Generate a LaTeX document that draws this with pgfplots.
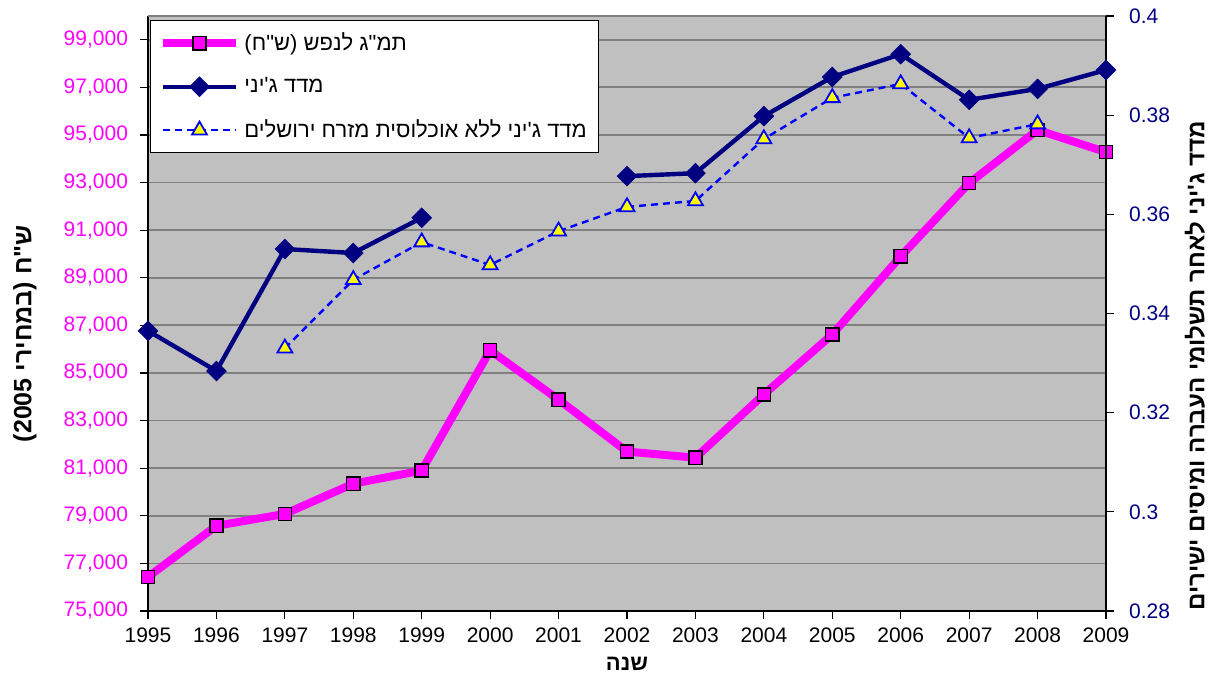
\documentclass[border=0pt]{standalone}
\usepackage{fontspec}
\setmainfont{Liberation Sans}
\newfontfamily\hebfont[Script=Hebrew]{Liberation Sans}
\usepackage{pgfplots}
\usepackage{pgfplotstable}
\pgfplotsset{compat=1.18}
\TeXXeTstate=1
\definecolor{gdpc}{HTML}{FF00FF}
\definecolor{ginic}{HTML}{000080}
\definecolor{gini2c}{HTML}{0000FF}
\definecolor{triy}{HTML}{FFFF00}
\definecolor{bgc}{HTML}{C0C0C0}
\definecolor{gridc}{HTML}{808080}
\newcommand{\heb}[1]{{\hebfont\beginR #1\endR}}

\pgfplotstableread{
year gdp
1995 76430
1996 78580
1997 79080
1998 80350
1999 80900
2000 85950
2001 83880
2002 81700
2003 81440
2004 84100
2005 86620
2006 89900
2007 92980
2008 95210
2009 94280
}\gdptable

\pgfplotstableread{
year gini
1995 0.3365
1996 0.3284
1997 0.3530
1998 0.3522
1999 0.3593
2000 nan
2001 nan
2002 0.3677
2003 0.3683
2004 0.3798
2005 0.3877
2006 0.3923
2007 0.3831
2008 0.3853
2009 0.3891
}\ginitable

\pgfplotstableread{
year gini
1997 0.3330
1998 0.3468
1999 0.3544
2000 0.3498
2001 0.3566
2002 0.3615
2003 0.3627
2004 0.3752
2005 0.3835
2006 0.3863
2007 0.3754
2008 0.3782
}\ginitwotable

\pgfplotsset{
  gdpstyle/.style={color=gdpc, line width=4pt, mark=square*, mark size=3.3pt,
    mark options={solid, fill=gdpc, draw=black, line width=0.7pt}},
  ginistyle/.style={color=ginic, line width=2.2pt, mark=square*, mark size=3.5pt,
    mark options={solid, fill=ginic, draw=ginic, line width=0.3pt, rotate=45}},
  gini2style/.style={color=gini2c, line width=1.2pt, dash pattern=on 3.5pt off 2.5pt,
    mark=triangle*, mark size=4.3pt,
    mark options={solid, fill=triy, draw=gini2c, line width=0.9pt}},
}

\begin{document}
\begin{tikzpicture}
\begin{axis}[
  name=ax,
  scale only axis, width=479pt, height=297.5pt,
  xmin=1995, xmax=2009, ymin=75000, ymax=100000,
  xtick={1995,1996,...,2009},
  ytick={75000,77000,...,99000},
  scaled y ticks=false, scaled x ticks=false,
  axis x line*=bottom, axis y line*=left,
  axis background/.style={fill=bgc},
  ymajorgrids, grid style={gridc, line width=0.9pt},
  tick align=outside, major tick length=4pt,
  tick style={black, line width=0.6pt},
  axis line style={black, line width=0.8pt},
  font=\fontsize{10.5}{12}\selectfont,
  /pgf/number format/assume math mode=true,
  xticklabel style={/pgf/number format/1000 sep={}, black, yshift=-1pt},
  yticklabel style={/pgf/number format/1000 sep={,}, gdpc, xshift=-2.5pt},
  xlabel={\heb{\bfseries שנה}},
  xlabel style={at={(rel axis cs:0.5,-0.089)}, anchor=center, font=\fontsize{11}{13}\selectfont},
  ylabel={\heb{\bfseries ש"ח (במחירי \beginL 2005\endL)}},
  ylabel style={at={(rel axis cs:-0.1284,0.466)}, anchor=center, font=\fontsize{12.5}{14}\selectfont},
  clip=false,
]
\draw[gridc, line width=0.9pt] (rel axis cs:0,1) -- (rel axis cs:1,1);
\addplot[gdpstyle] table[x=year, y=gdp] {\gdptable};
\end{axis}
\begin{axis}[
  scale only axis, width=479pt, height=297.5pt,
  xmin=1995, xmax=2009, ymin=0.28, ymax=0.4,
  ytick={0.28,0.3,0.32,0.34,0.36,0.38,0.4},
  axis x line=none, axis y line*=right,
  tick align=outside, major tick length=4pt,
  tick style={black, line width=0.6pt},
  axis line style={black, line width=0.8pt},
  font=\fontsize{10.5}{12}\selectfont,
  /pgf/number format/assume math mode=true,
  yticklabel style={/pgf/number format/fixed, /pgf/number format/precision=2, ginic, xshift=4pt},
  ylabel={\heb{\bfseries מדד ג'יני לאחר תשלומי העברה ומיסים ישירים}},
  ylabel style={at={(rel axis cs:1.0929,0.412)}, anchor=center, font=\fontsize{12}{14}\selectfont},
  unbounded coords=jump,
  clip=false,
  legend style={at={(rel axis cs:0.002,0.993)}, anchor=north west,
    draw=black, line width=0.6pt, fill=white, font=\fontsize{11}{13}\selectfont,
    row sep=8pt, inner xsep=4pt, inner ysep=4pt},
  legend cell align=left,
  legend image code/.code={\draw[mark repeat=2, mark phase=2] plot coordinates {(0cm,0cm) (0.65cm,0cm) (1.3cm,0cm)};},
]
\addlegendimage{gdpstyle}
\addlegendentry{\heb{תמ"ג לנפש (ש"ח)}}
\addplot[ginistyle] table[x=year, y=gini] {\ginitable};
\addlegendentry{\heb{מדד ג'יני}}
\addplot[gini2style] table[x=year, y=gini] {\ginitwotable};
\addlegendentry{\heb{מדד ג'יני ללא אוכלוסית מזרח ירושלים}}
\end{axis}
\pgfresetboundingbox
\path ([xshift=-74pt,yshift=-33.5pt]ax.south west) rectangle ([xshift=53pt,yshift=8pt]ax.north east);
\end{tikzpicture}
\end{document}
